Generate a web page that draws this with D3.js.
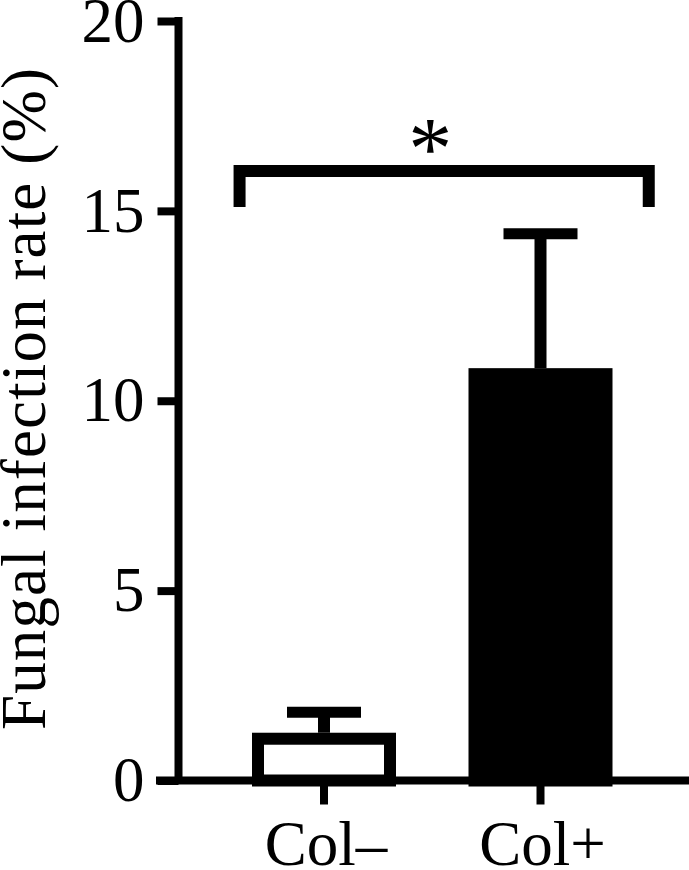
<!DOCTYPE html>
<html>
<head>
<meta charset="utf-8">
<script src="https://cdn.jsdelivr.net/npm/d3@7"></script>
<style>
  html, body { margin: 0; padding: 0; background: #fff; }
  svg { display: block; }
  text { font-family: "Liberation Serif", "Times New Roman", serif; fill: #000; }
</style>
</head>
<body>
<svg id="chart" width="689" height="870"></svg>
<script>
// ---- data ----
const categories = ["Col\u2013", "Col+"];
const means = [1.1, 10.7];
const sems = [0.7, 3.7];
const fills = ["#ffffff", "#000000"];
const yTicks = [0, 5, 10, 15, 20];
const yLabel = "Fungal infection rate (%)";
// significance bracket: from / to in category units, height and drop in data units
const sigBracket = { from: -0.39, to: 1.5, y: 16.05, drop: 15.1, label: "*" };

// ---- layout ----
const W = 689, H = 870;
const axisX = 178.5;
const y0px = 780.5, y20px = 21;
const svg = d3.select("#chart");

const y = d3.scaleLinear().domain([0, 20]).range([y0px, y20px]);
const x = d3.scaleLinear().domain([0, 1]).range([324, 540.5]);
const barW = 132;

// bars
svg.append("g").selectAll("rect").data(categories).join("rect")
  .attr("x", (d, i) => x(i) - barW / 2)
  .attr("width", barW)
  .attr("y", (d, i) => y(means[i]))
  .attr("height", (d, i) => y(0) - y(means[i]))
  .attr("fill", (d, i) => fills[i])
  .attr("stroke", "#000")
  .attr("stroke-width", 12);

// error bars (upper only)
const eb = svg.append("g");
categories.forEach((c, i) => {
  eb.append("line")
    .attr("x1", x(i)).attr("x2", x(i))
    .attr("y1", y(means[i]) - 6).attr("y2", y(means[i] + sems[i]))
    .attr("stroke", "#000").attr("stroke-width", 12);
  eb.append("line")
    .attr("x1", x(i) - 37).attr("x2", x(i) + 37)
    .attr("y1", y(means[i] + sems[i])).attr("y2", y(means[i] + sems[i]))
    .attr("stroke", "#000").attr("stroke-width", 11);
});

// y axis
const yAxis = d3.axisLeft(y).tickValues(yTicks).tickSize(21).tickSizeOuter(0).tickPadding(13)
  .tickFormat(d3.format("d"));
const gy = svg.append("g").attr("transform", `translate(${axisX},0)`).call(yAxis);
gy.select(".domain").attr("stroke", "#000").attr("stroke-width", 8)
  .attr("d", `M0,${y(20) - 4}V${y(0)}`);
gy.selectAll(".tick line").attr("stroke", "#000").attr("stroke-width", 8);
gy.selectAll(".tick text").attr("font-size", 63).attr("fill", "#000")
  .style("font-family", "'Liberation Serif', 'Times New Roman', serif");

// x axis
svg.append("line")
  .attr("x1", 156).attr("x2", W)
  .attr("y1", y(0)).attr("y2", y(0))
  .attr("stroke", "#000").attr("stroke-width", 8);
const gx = svg.append("g");
gx.selectAll("line").data(categories).join("line")
  .attr("x1", (d, i) => x(i)).attr("x2", (d, i) => x(i))
  .attr("y1", y(0)).attr("y2", y(0) + 24)
  .attr("stroke", "#000").attr("stroke-width", 8);
gx.selectAll("text").data(categories).join("text")
  .attr("x", (d, i) => x(i) + 2)
  .attr("y", 865)
  .attr("text-anchor", "middle")
  .attr("font-size", 63)
  .text(d => d);

// y label
svg.append("text")
  .attr("transform", `translate(45,399) rotate(-90)`)
  .attr("text-anchor", "middle")
  .attr("font-size", 63)
  .attr("textLength", 662)
  .attr("lengthAdjust", "spacing")
  .text(yLabel);

// significance bracket
const bx1 = x(sigBracket.from), bx2 = x(sigBracket.to);
svg.append("path")
  .attr("d", `M${bx1},${y(sigBracket.drop)}V${y(sigBracket.y)}H${bx2}V${y(sigBracket.drop)}`)
  .attr("fill", "none").attr("stroke", "#000").attr("stroke-width", 12)
  .attr("stroke-linejoin", "miter");
svg.append("text")
  .attr("x", (bx1 + bx2) / 2 - 14)
  .attr("y", 178)
  .attr("text-anchor", "middle")
  .attr("font-size", 88)
  .text(sigBracket.label);
</script>
</body>
</html>
